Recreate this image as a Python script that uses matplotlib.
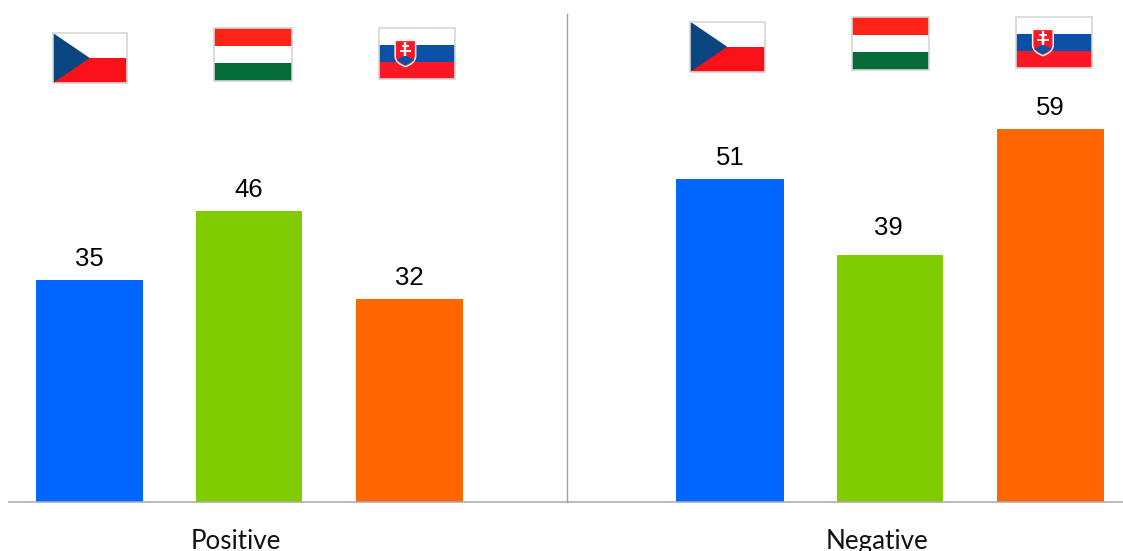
import matplotlib
matplotlib.use('Agg')
import matplotlib.pyplot as plt
from matplotlib.patches import Rectangle, Polygon, PathPatch
from matplotlib.path import Path

plt.rcParams['font.family'] = ['Liberation Sans', 'DejaVu Sans']

# Survey values per group
groups = ['Positive', 'Negative']
countries = ['cz', 'hu', 'sk']
positive = [35, 46, 32]
negative = [51, 39, 59]

BAR_COLORS = {'cz': '#0066ff', 'hu': '#80cc00', 'sk': '#ff6600'}
W, H = 1123, 551
PX_PER_UNIT = 6.33
BASE_Y = 502

fig = plt.figure(figsize=(W / 100, H / 100), dpi=100, facecolor='white')
ax = fig.add_axes([0, 0, 1, 1])
ax.set_xlim(0, W)
ax.set_ylim(-(H - BASE_Y) / PX_PER_UNIT, BASE_Y / PX_PER_UNIT)
ax.axis('off')

# Layout of both panels, in pixels
panel_centers = [[89.5, 249, 409.5], [730, 890, 1050.5]]
bar_widths = [[107, 106.5, 107], [108, 106.5, 107]]
label_nudge = [[(0, 0), (0, 0), (0, 0)], [(0, 0), (-2, 6), (0, 0)]]
group_centers = [236, 877]

for i, (vals, centers, name, gc) in enumerate(zip([positive, negative], panel_centers, groups, group_centers)):
    for j, (c, v, cx) in enumerate(zip(countries, vals, centers)):
        ax.bar(cx, v, width=bar_widths[i][j], color=BAR_COLORS[c], linewidth=0, zorder=2)
        dx, dy = label_nudge[i][j]
        ax.annotate(str(v), (cx, v), xytext=(dx, 9 + dy), textcoords='offset pixels',
                    ha='center', va='bottom', fontsize=18.5, color='black')
    ax.annotate(name, (gc, 0), xytext=(0, -47), textcoords='offset pixels',
                ha='center', va='baseline', fontsize=18.7, color='#111111',
                family=['Lato', 'DejaVu Sans'])

# Baseline and panel divider
ax.plot([8, W], [0, 0], color='#a8a8a8', lw=1.1, zorder=3, solid_capstyle='butt')
ax.plot([567, 567], [0, (BASE_Y - 14) / PX_PER_UNIT], color='#a0a0a0', lw=1.0, zorder=3)

# Overlay in pixel coordinates for the flags
fa = fig.add_axes([0, 0, 1, 1], facecolor='none')
fa.set_xlim(0, W)
fa.set_ylim(H, 0)
fa.axis('off')


def border(x0, y0, x1, y1):
    fa.add_patch(Rectangle((x0, y0), x1 - x0, y1 - y0, fill=False, ec='#d6d6d6', lw=1.2, zorder=8))


def stripes(x0, y0, x1, y1, colors):
    h = (y1 - y0) / 3
    for i, col in enumerate(colors):
        fa.add_patch(Rectangle((x0, y0 + i * h), x1 - x0, h, fc=col, lw=0, zorder=4))


def flag_cz(x0, y0, x1, y1):
    ym = (y0 + y1) / 2
    xm = x0 + (x1 - x0) * 0.5
    fa.add_patch(Rectangle((x0, y0), x1 - x0, ym - y0, fc='white', lw=0, zorder=4))
    fa.add_patch(Rectangle((x0, ym), x1 - x0, y1 - ym, fc='#f91018', lw=0, zorder=4))
    fa.add_patch(Polygon([(x0, y0), (xm, ym), (x0, y1)], fc='#0b4580', lw=0, zorder=5))
    border(x0, y0, x1, y1)


def flag_hu(x0, y0, x1, y1):
    stripes(x0, y0, x1, y1, ['#fd2316', 'white', '#056b38'])
    border(x0, y0, x1, y1)


def flag_sk(x0, y0, x1, y1):
    stripes(x0, y0, x1, y1, ['white', '#0a50a6', '#f91824'])
    w = x1 - x0
    h = y1 - y0
    # the coat of arms sits towards the hoist
    cx = x0 + w * 0.354
    sx = cx - w * 0.135
    ex = cx + w * 0.135
    top = y0 + h * 0.25
    mid = y0 + h * 0.56
    bot = y0 + h * 0.76
    verts = [(sx, top), (ex, top), (ex, mid), (ex, mid + (bot - mid) * 0.65), (cx, bot),
             (sx, mid + (bot - mid) * 0.65), (sx, mid), (sx, top)]
    codes = [Path.MOVETO, Path.LINETO, Path.LINETO, Path.CURVE3, Path.CURVE3,
             Path.CURVE3, Path.CURVE3, Path.CLOSEPOLY]
    shield = Path(verts, codes)
    fa.add_patch(PathPatch(shield, fc='#f91824', ec='#f2f2f2', lw=1.1, zorder=5))
    # blue hills at the bottom of the shield
    hill = [(cx - w * 0.115, y0 + h * 0.63), (cx - w * 0.05, y0 + h * 0.58), (cx, y0 + h * 0.54),
            (cx + w * 0.05, y0 + h * 0.58), (cx + w * 0.115, y0 + h * 0.63), (cx, y0 + h * 0.735)]
    fa.add_patch(Polygon(hill, fc='#0a50a6', lw=0, zorder=6))
    # double cross
    fa.plot([cx, cx], [y0 + h * 0.29, y0 + h * 0.55], color='white', lw=1.7, zorder=7, solid_capstyle='butt')
    fa.plot([cx - w * 0.05, cx + w * 0.05], [y0 + h * 0.36] * 2, color='white', lw=1.3, zorder=7, solid_capstyle='butt')
    fa.plot([cx - w * 0.075, cx + w * 0.075], [y0 + h * 0.46] * 2, color='white', lw=1.3, zorder=7, solid_capstyle='butt')
    border(x0, y0, x1, y1)


flag_cz(53, 33, 126.5, 83)
flag_hu(214, 28, 292, 81)
flag_sk(378.5, 27.5, 454.5, 79)
flag_cz(690, 21.5, 764.5, 72)
flag_hu(851.5, 17, 929, 70)
flag_sk(1016, 16.5, 1092, 68)

fig.savefig('out.png', dpi=100, facecolor='white')
